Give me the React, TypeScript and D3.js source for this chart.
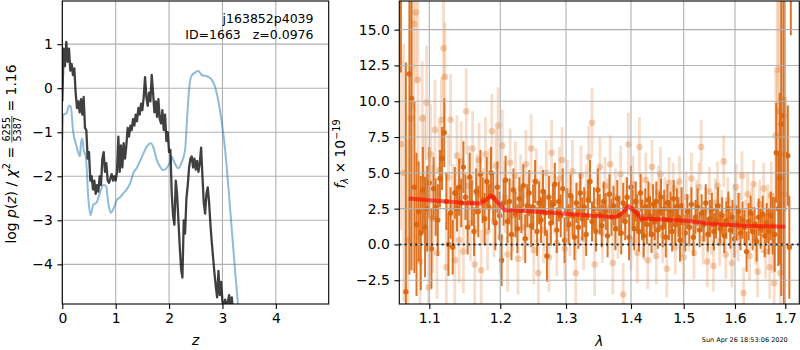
import { useEffect, useRef } from "react";
import * as d3 from "d3";

const FONT = "DejaVu Sans, sans-serif";

// left panel: redshift grid and the two curves
const pzZ = [
  0, 0.025, 0.05, 0.075, 0.1, 0.125, 0.15, 0.175, 0.2, 0.225, 0.25, 0.275, 0.3, 0.325, 0.35, 0.375,
  0.4, 0.425, 0.45, 0.475, 0.5, 0.525, 0.55, 0.575, 0.6, 0.625, 0.65, 0.675, 0.7, 0.725, 0.75, 0.775,
  0.8, 0.825, 0.85, 0.875, 0.9, 0.925, 0.95, 0.975, 1.0, 1.025, 1.05, 1.075, 1.1, 1.125, 1.15, 1.175,
  1.2, 1.225, 1.25, 1.275, 1.3, 1.325, 1.35, 1.375, 1.4, 1.425, 1.45, 1.475, 1.5, 1.525, 1.55, 1.575,
  1.6, 1.625, 1.65, 1.675, 1.7, 1.725, 1.75, 1.775, 1.8, 1.825, 1.85, 1.875, 1.9, 1.925, 1.95, 1.975,
  2.0, 2.025, 2.05, 2.075, 2.1, 2.125, 2.15, 2.175, 2.2, 2.225, 2.25, 2.275, 2.3, 2.325, 2.35, 2.375,
  2.4, 2.425, 2.45, 2.475, 2.5, 2.525, 2.55, 2.575, 2.6, 2.625, 2.65, 2.675, 2.7, 2.725, 2.75, 2.775,
  2.8, 2.825, 2.85, 2.875, 2.9, 2.925, 2.95, 2.975, 3.0, 3.025, 3.05, 3.075, 3.1, 3.125, 3.15, 3.175, 3.2,
];
const pzLog = [
  -0.3, 0.9, 0.5, 1.05, 0.6, 0.9, 0.4, 0.55, 0.3, 0.45, -0.1, -0.45, -0.3, -0.55, -0.25, -0.6,
  -0.2, -0.9, -0.95, -1.6, -1.45, -2.1, -2.0, -2.3, -2.1, -2.4, -2.2, -2.35, -2.0, -2.2, -1.6, -1.45,
  -1.9, -1.7, -2.1, -2.15, -2.05, -1.95, -2.1, -2.0, -2.1, -1.9, -1.1, -1.9, -1.3, -1.8, -1.25, -1.6,
  -1.3, -0.9, -1.1, -0.85, -0.95, -0.7, -0.85, -0.6, -0.75, -0.45, -0.6, -0.35, -0.5, -0.2, 0.25, -0.2,
  -0.4, -0.1, -0.3, 0.3, -0.1, -0.55, -0.3, -0.65, -0.25, -0.7, -0.8, -0.5, -0.95, -0.6, -1.2, -1.0,
  -1.45, -1.4, -2.4, -2.9, -3.1, -2.1, -2.4, -3.0, -3.6, -4.1, -4.3, -3.0, -3.3, -2.5, -2.2, -1.8,
  -1.6, -1.55, -1.8, -1.6, -1.85, -1.65, -1.9, -1.7, -1.35, -2.0, -2.6, -2.85, -2.4, -2.25, -2.6, -3.1,
  -3.5, -3.85, -4.2, -4.5, -4.75, -4.15, -4.7, -4.4, -4.85, -4.95, -4.8, -4.95, -4.85, -4.7, -5.0, -4.75, -5.1,
];
const chiZ = [
  0, 0.02, 0.08, 0.125, 0.16, 0.2, 0.27, 0.33, 0.35, 0.375, 0.4, 0.44, 0.49, 0.53, 0.58, 0.64, 0.7,
  0.77, 0.82, 0.86, 0.906, 0.96, 1.02, 1.08, 1.14, 1.2, 1.27, 1.33, 1.39, 1.45, 1.52, 1.58, 1.66, 1.71,
  1.77, 1.83, 1.89, 1.95, 2.02, 2.05, 2.08, 2.14, 2.17, 2.23, 2.3, 2.34, 2.38, 2.42, 2.49, 2.55, 2.61,
  2.71, 2.8, 2.86, 2.92, 2.99, 3.05, 3.11, 3.17, 3.24, 3.29, 3.32,
];
const chiLog = [
  -1.17, -0.6, -0.57, -0.4, -0.42, -0.95, -1.33, -1.55, -1.25, -1.14, -1.4, -1.55, -2.54, -2.88, -2.65,
  -2.6, -2.39, -2.2, -2.22, -2.6, -2.83, -2.73, -2.54, -2.48, -2.39, -2.31, -2.16, -1.93, -1.82, -1.67,
  -1.48, -1.33, -1.25, -1.36, -1.63, -1.78, -1.86, -1.82, -1.67, -1.55, -1.63, -1.78, -1.82, -1.7, -1.4,
  -0.64, 0.04, 0.28, 0.36, 0.39, 0.3, 0.27, 0.19, 0.04, -0.27, -0.8, -1.4, -2.23, -3.14, -4.2, -4.9, -5.3,
];
const zTicks = [0, 1, 2, 3, 4];
const pzTicks = [-4, -3, -2, -1, 0, 1];

// right panel: spectrum
const lamTicks = [1.1, 1.2, 1.3, 1.4, 1.5, 1.6, 1.7];
const fluxTicks = [-2.5, 0, 2.5, 5, 7.5, 10, 12.5, 15];
const modelLam = [
  1.071, 1.1, 1.13, 1.15, 1.171, 1.18, 1.187, 1.195, 1.207, 1.25, 1.295, 1.34, 1.378, 1.387, 1.396,
  1.405, 1.42, 1.493, 1.53, 1.56, 1.623, 1.7,
];
const modelFlux = [
  3.2, 3.08, 2.98, 2.9, 2.85, 3.1, 3.43, 3.0, 2.39, 2.3, 2.16, 2.0, 1.92, 2.2, 2.67, 2.4, 1.81, 1.69,
  1.55, 1.41, 1.3, 1.23,
];
// [lambda, flux, error]
const darkPts = [
  [1.06, 20, 8], [1.067, -3.3, 16], [1.072, 11.9, 14], [1.075, 10.2, 12], [1.079, 4.0, 6],
  [1.082, 1.4, 5], [1.085, 2.3, 3.5], [1.088, 0.8, 4], [1.091, 3.8, 3.0], [1.094, 1.2, 3.5],
  [1.097, 2.5, 3], [1.1, 4.3, 2.5], [1.103, -0.3, 2.8], [1.106, 3.9, 2.2], [1.109, 2.6, 2.0],
  [1.112, 1.7, 2.5], [1.115, 4.6, 2.0], [1.118, 6.0, 2.2], [1.121, 7.8, 2.4], [1.124, 3.0, 2.0],
  [1.127, 0.0, 2.2], [1.13, 2.2, 1.8], [1.133, -0.2, 1.9], [1.136, 3.6, 1.8], [1.139, 2.5, 1.6],
  [1.142, 4.0, 2.0], [1.145, 2.9, 1.7], [1.148, 5.4, 1.8], [1.151, 3.3, 1.6], [1.154, 1.2, 1.9],
  [1.157, 4.7, 1.7], [1.16, 2.9, 1.6], [1.163, 0.9, 1.7], [1.166, 3.7, 1.6], [1.169, 2.3, 1.8],
  [1.172, 4.9, 1.7], [1.175, 3.1, 1.6], [1.178, 1.8, 1.8], [1.181, 4.4, 1.7], [1.184, 2.6, 1.6],
  [1.187, 5.0, 1.8], [1.19, 3.3, 1.7], [1.193, 1.5, 1.9], [1.196, 4.0, 1.8], [1.199, 2.0, 1.7],
  [1.202, -1.1, 1.8], [1.205, 2.9, 1.6], [1.208, 4.5, 1.7], [1.211, 1.6, 1.5], [1.214, 3.0, 1.6],
  [1.217, 0.7, 1.8], [1.22, 3.8, 1.5], [1.223, 2.1, 1.6], [1.226, 1.1, 1.7], [1.229, 3.2, 1.5],
  [1.232, 2.4, 1.6], [1.235, 4.1, 1.5], [1.238, 0.4, 1.7], [1.241, 2.7, 1.5], [1.244, 3.6, 1.6],
  [1.247, 1.3, 1.5], [1.25, 2.6, 1.6], [1.253, 4.4, 1.5], [1.256, 0.9, 1.7], [1.259, 2.9, 1.5],
  [1.262, 1.7, 1.6], [1.265, 3.7, 1.5], [1.268, 2.2, 1.6], [1.271, -0.8, 1.8], [1.274, 3.3, 1.5],
  [1.277, 1.5, 1.6], [1.28, 2.8, 1.4], [1.283, 4.2, 1.5], [1.286, 1.0, 1.6], [1.289, 3.0, 1.4],
  [1.292, 2.0, 1.5], [1.295, 3.9, 1.4], [1.298, 0.3, 1.6], [1.301, 2.4, 1.5], [1.304, 1.4, 1.4],
  [1.307, 3.4, 1.5], [1.31, 2.0, 1.4], [1.313, 0.5, 1.6], [1.316, 2.9, 1.4], [1.319, 1.2, 1.5],
  [1.322, 3.6, 1.4], [1.325, 1.8, 1.5], [1.328, 2.6, 1.4], [1.331, 0.7, 1.5], [1.334, 3.1, 1.4],
  [1.337, 4.4, 1.5], [1.34, 1.6, 1.4], [1.343, 2.5, 1.5], [1.346, 0.9, 1.4], [1.349, 3.8, 1.5],
  [1.352, 2.1, 1.4], [1.355, 1.3, 1.5], [1.358, 3.0, 1.4], [1.361, 2.3, 1.3], [1.364, 0.6, 1.5],
  [1.367, 3.5, 1.4], [1.37, 1.9, 1.3], [1.373, 2.7, 1.4], [1.376, 1.1, 1.5], [1.379, 3.2, 1.3],
  [1.382, 2.0, 1.4], [1.385, 0.8, 1.5], [1.388, 2.9, 1.4], [1.391, 1.6, 1.3], [1.394, 3.3, 1.4],
  [1.397, 0.5, 1.6], [1.4, 4.0, 1.5], [1.403, 2.4, 1.4], [1.406, 1.1, 1.5], [1.409, 3.0, 1.4],
  [1.412, 2.2, 1.3], [1.415, 0.9, 1.4], [1.418, 3.6, 1.3], [1.421, 1.7, 1.4], [1.424, 0.6, 1.5],
  [1.427, 2.6, 1.3], [1.43, 1.4, 1.4], [1.433, 3.1, 1.3], [1.436, 2.0, 1.4], [1.439, 0.7, 1.3],
  [1.442, 2.8, 1.4], [1.445, 1.6, 1.3], [1.448, 3.0, 1.4], [1.451, 1.0, 1.3], [1.454, 2.3, 1.4],
  [1.457, 3.3, 1.3], [1.46, 1.2, 1.4], [1.463, 2.5, 1.3], [1.466, 0.5, 1.4], [1.469, 2.9, 1.3],
  [1.472, 1.7, 1.4], [1.475, 2.4, 1.3], [1.478, 0.9, 1.4], [1.481, 3.2, 1.3], [1.484, 1.4, 1.4],
  [1.487, 2.6, 1.3], [1.49, 1.9, 1.4], [1.493, 0.3, 1.5], [1.496, 2.7, 1.3], [1.499, 1.5, 1.4],
  [1.503, 0.8, 1.3], [1.507, 2.3, 1.2], [1.511, 1.2, 1.3], [1.515, 2.8, 1.2], [1.519, 0.5, 1.3],
  [1.523, 1.9, 1.2], [1.527, 2.6, 1.3], [1.531, 1.0, 1.2], [1.535, 2.2, 1.3], [1.539, 1.4, 1.2],
  [1.543, 2.9, 1.3], [1.547, 0.7, 1.2], [1.551, 1.8, 1.3], [1.555, 2.4, 1.2], [1.559, 0.9, 1.3],
  [1.563, 1.6, 1.2], [1.567, 2.7, 1.3], [1.571, 1.1, 1.2], [1.575, 2.0, 1.3], [1.579, 0.6, 1.2],
  [1.583, 1.7, 1.3], [1.587, 2.5, 1.2], [1.591, 1.0, 1.3], [1.595, 1.9, 1.2], [1.599, 0.4, 1.3],
  [1.603, 1.5, 1.2], [1.607, 2.3, 1.3], [1.611, 0.8, 1.2], [1.615, 1.7, 1.3], [1.619, 1.2, 1.2],
  [1.623, -0.5, 1.4], [1.627, 1.6, 1.3], [1.631, 2.2, 1.2], [1.635, 0.9, 1.3], [1.639, 1.4, 1.2],
  [1.643, 0.2, 1.4], [1.647, 1.9, 1.3], [1.651, 1.1, 1.4], [1.655, 2.1, 1.3], [1.659, 0.6, 1.5],
  [1.663, 1.5, 1.4], [1.667, 0.9, 1.6], [1.671, 2.0, 1.7], [1.675, 1.3, 2.0], [1.679, 0.7, 2.6],
  [1.682, 6.4, 3.5], [1.686, 2.5, 4.0], [1.689, 4.6, 6], [1.692, 8.4, 12], [1.697, 9.0, 14],
  [1.7, 6.3, 4], [1.705, 6.2, 3.5], [1.708, -0.2, 3.6], [1.711, 20, 5.4],
];
const lightPts = [
  [1.06, 7.0, 6.0], [1.064, 5.0, 9], [1.07, 0.3, 7], [1.074, 8.8, 9], [1.078, 15.4, 6],
  [1.081, 16.2, 5], [1.084, 11.5, 6], [1.087, -1.2, 5], [1.09, 8.8, 4], [1.093, 4.6, 4.5],
  [1.096, 9.9, 4], [1.099, -3.0, 4], [1.102, 6.3, 3.5], [1.105, 1.8, 3.8], [1.108, 8.0, 3.5],
  [1.111, -0.6, 3.2], [1.114, 5.2, 3.4], [1.117, 8.7, 3.0], [1.12, 13.7, 3.5], [1.122, 11.7, 3.8],
  [1.124, -1.6, 3.2], [1.127, 4.7, 3.0], [1.13, 8.7, 3.2], [1.133, 2.6, 3.0], [1.136, -1.1, 3.2],
  [1.139, 6.2, 2.8], [1.142, 0.3, 3.0], [1.145, 5.8, 2.8], [1.148, -0.5, 2.9], [1.152, 9.3, 3.0],
  [1.155, 4.1, 2.8], [1.158, 1.5, 2.7], [1.161, 6.7, 2.6], [1.164, -1.4, 2.8], [1.167, 3.6, 2.7],
  [1.17, 5.9, 2.6], [1.173, -1.8, 2.8], [1.176, 2.7, 2.6], [1.179, 6.3, 2.6], [1.182, 0.9, 2.7],
  [1.185, 4.2, 2.5], [1.188, 7.9, 2.6], [1.191, 1.6, 2.5], [1.194, 5.5, 2.6], [1.197, 8.3, 2.7],
  [1.2, 0.5, 2.6], [1.203, 6.9, 2.5], [1.207, 3.3, 2.5], [1.211, -0.7, 2.6], [1.215, 5.7, 2.4],
  [1.219, 2.0, 2.5], [1.223, 4.8, 2.4], [1.227, -1.0, 2.5], [1.231, 3.9, 2.4], [1.235, 1.2, 2.3],
  [1.239, 5.6, 2.4], [1.243, 2.6, 2.3], [1.247, 6.7, 2.4], [1.251, -0.4, 2.4], [1.255, 4.4, 2.3],
  [1.258, -2.0, 2.4], [1.262, 3.2, 2.3], [1.266, 1.0, 2.3], [1.27, 5.0, 2.3], [1.274, -0.9, 2.4],
  [1.278, 6.4, 2.3], [1.282, 2.9, 2.2], [1.286, 0.1, 2.3], [1.29, 4.6, 2.2], [1.294, 5.9, 2.3],
  [1.298, -0.3, 2.2], [1.302, 3.7, 2.2], [1.306, 1.4, 2.2], [1.31, 5.1, 2.2], [1.315, -2.0, 2.3],
  [1.319, 2.2, 2.2], [1.323, 4.8, 2.1], [1.327, 0.4, 2.2], [1.331, 3.5, 2.1], [1.335, 6.1, 2.2],
  [1.34, 8.5, 2.4], [1.344, -1.4, 2.2], [1.348, 3.0, 2.1], [1.352, 5.4, 2.1], [1.356, 0.8, 2.1],
  [1.36, 4.1, 2.0], [1.364, 2.5, 2.1], [1.368, 5.6, 2.0], [1.372, -1.3, 2.2], [1.376, 3.3, 2.0],
  [1.38, 1.1, 2.1], [1.384, 4.9, 2.0], [1.388, -3.5, 2.2], [1.392, 2.7, 2.0], [1.396, 7.0, 2.2],
  [1.4, 0.3, 2.1], [1.404, 4.2, 2.0], [1.408, 2.0, 2.0], [1.412, -0.6, 2.1], [1.416, 6.8, 2.1],
  [1.42, 3.0, 2.0], [1.424, 0.9, 2.0], [1.428, 4.5, 1.9], [1.432, -1.1, 2.0], [1.436, 2.4, 1.9],
  [1.44, 5.4, 1.9], [1.444, 1.3, 1.9], [1.448, -0.8, 2.0], [1.452, 3.6, 1.9], [1.456, 4.9, 1.9],
  [1.46, 0.6, 1.9], [1.464, 2.9, 1.8], [1.468, -1.7, 2.0], [1.472, 4.3, 1.8], [1.476, 1.8, 1.8],
  [1.48, 3.9, 1.8], [1.484, -0.2, 1.9], [1.488, 2.6, 1.8], [1.492, 4.4, 1.8], [1.496, 0.9, 1.8],
  [1.5, -0.9, 1.9], [1.505, 3.3, 1.8], [1.51, 1.2, 1.7], [1.515, 4.6, 1.8], [1.52, -0.6, 1.8],
  [1.525, 2.8, 1.7], [1.53, 4.0, 1.7], [1.534, 6.8, 1.9], [1.538, 0.4, 1.8], [1.542, 2.3, 1.7],
  [1.546, -1.2, 1.8], [1.55, 3.7, 1.7], [1.554, 1.0, 1.7], [1.558, -1.5, 1.8], [1.562, 2.9, 1.7],
  [1.566, 4.1, 1.7], [1.57, 0.2, 1.7], [1.574, 2.2, 1.6], [1.578, 5.8, 1.8], [1.582, -0.7, 1.7],
  [1.586, 3.1, 1.6], [1.59, 1.4, 1.6], [1.594, -1.3, 1.7], [1.598, 2.6, 1.6], [1.602, 4.0, 1.6],
  [1.606, 0.5, 1.7], [1.61, 2.0, 1.6], [1.614, 4.8, 1.7], [1.617, -3.4, 1.8], [1.621, 1.5, 1.6],
  [1.625, 3.5, 1.6], [1.629, -0.8, 1.7], [1.633, 2.4, 1.6], [1.637, 4.2, 1.7], [1.641, 0.3, 1.7],
  [1.645, -1.9, 1.8], [1.649, 2.8, 1.7], [1.653, 1.2, 1.8], [1.657, 3.9, 1.8], [1.661, -0.5, 1.9],
  [1.665, 2.2, 2.0], [1.669, -1.6, 2.2], [1.672, 3.4, 2.4], [1.675, 0.8, 2.8], [1.678, -2.7, 3.2],
  [1.681, 7.6, 4.5], [1.684, 12.2, 6], [1.687, 9.3, 8], [1.69, -2.0, 5], [1.692, 10.1, 10],
  [1.695, 8.8, 9], [1.698, 3.5, 6],
];

const ORANGE = "#d9660f";

function axes(svg, x, y, box, xt, yt, xfmt, yfmt) {
  const gx = svg
    .append("g")
    .attr("transform", `translate(0,${box.y1})`)
    .call(d3.axisBottom(x).tickValues(xt).tickFormat(xfmt).tickSize(4.9).tickSizeOuter(0).tickPadding(4.6));
  const gy = svg
    .append("g")
    .attr("transform", `translate(${box.x0},0)`)
    .call(d3.axisLeft(y).tickValues(yt).tickFormat(yfmt).tickSize(4.9).tickSizeOuter(0).tickPadding(4.6));
  [gx, gy].forEach((g) => {
    g.select(".domain").remove();
    g.attr("font-family", FONT).attr("font-size", 13.9);
    g.selectAll("line").attr("stroke", "#000").attr("stroke-width", 1.1);
    g.selectAll("text").attr("fill", "#000");
  });
  svg
    .append("rect")
    .attr("x", box.x0)
    .attr("y", box.y0)
    .attr("width", box.x1 - box.x0)
    .attr("height", box.y1 - box.y0)
    .attr("fill", "none")
    .attr("stroke", "#000")
    .attr("stroke-width", 1.1);
}

function grid(g, x, y, box, xt, yt) {
  const gg = g.append("g").attr("stroke", "#b0b0b0").attr("stroke-width", 1.1);
  xt.forEach((t) => gg.append("line").attr("x1", x(t)).attr("x2", x(t)).attr("y1", box.y0).attr("y2", box.y1));
  yt.forEach((t) => gg.append("line").attr("y1", y(t)).attr("y2", y(t)).attr("x1", box.x0).attr("x2", box.x1));
}

export default function App() {
  const ref = useRef(null);

  useEffect(() => {
    const svg = d3.select(ref.current);
    svg.selectAll("*").remove();

    // ---------- left panel ----------
    const L = { x0: 62.3, x1: 328.7, y0: 1, y1: 304 };
    const xL = d3.scaleLinear().domain([0, 4.99]).range([L.x0, L.x1]);
    const yL = d3.scaleLinear().domain([-4.9, 1.98]).range([L.y1, L.y0]);

    svg.append("clipPath").attr("id", "clipL").append("rect")
      .attr("x", L.x0).attr("y", L.y0).attr("width", L.x1 - L.x0).attr("height", L.y1 - L.y0);

    grid(svg, xL, yL, L, zTicks, pzTicks);

    const gL = svg.append("g").attr("clip-path", "url(#clipL)");
    const lineChi = d3.line().x((d) => xL(d[0])).y((d) => yL(d[1])).curve(d3.curveMonotoneX);
    gL.append("path")
      .attr("d", lineChi(chiZ.map((z, i) => [z, chiLog[i]])))
      .attr("fill", "none")
      .attr("stroke", "#1f77b4")
      .attr("stroke-opacity", 0.5)
      .attr("stroke-width", 2);
    const linePz = d3.line().x((d) => xL(d[0])).y((d) => yL(d[1]));
    gL.append("path")
      .attr("d", linePz(pzZ.map((z, i) => [z, pzLog[i]])))
      .attr("fill", "none")
      .attr("stroke", "#000")
      .attr("stroke-opacity", 0.75)
      .attr("stroke-width", 2.3)
      .attr("stroke-linejoin", "round");

    axes(svg, xL, yL, L, zTicks, pzTicks, d3.format("d"), d3.format("d"));

    const title = svg.append("g").attr("font-family", FONT).attr("font-size", 12.5).attr("text-anchor", "end");
    title.append("text").attr("x", 313.5).attr("y", 23).text("j163852p4039");
    title.append("text").attr("x", 313.5).attr("y", 39).style("white-space", "pre").text("ID=1663   z=0.0976");

    svg.append("text")
      .attr("x", xL(2.5)).attr("y", 345)
      .attr("text-anchor", "middle").attr("font-family", FONT).attr("font-size", 13.9)
      .attr("font-style", "italic").text("z");

    // y label with fraction
    const yl = svg.append("g").attr("transform", "translate(15.5,154) rotate(-90)")
      .attr("font-family", FONT).attr("font-size", 13.9);
    const a = yl.append("text").style("white-space", "pre");
    a.append("tspan").text("log ");
    a.append("tspan").attr("font-style", "italic").text("p");
    a.append("tspan").text("(");
    a.append("tspan").attr("font-style", "italic").text("z");
    a.append("tspan").text(") / ");
    a.append("tspan").attr("font-style", "italic").text("χ");
    a.append("tspan").attr("font-size", 9.7).attr("dy", -5.5).text("2");
    a.append("tspan").attr("dy", 5.5).text(" = ");
    const num = yl.append("text").attr("font-size", 9.7).attr("text-anchor", "middle").attr("y", -5.3).text("6255");
    const den = yl.append("text").attr("font-size", 9.7).attr("text-anchor", "middle").attr("y", 5.2).text("5387");
    const c = yl.append("text").style("white-space", "pre").text(" = 1.16");
    const wa = a.node().getComputedTextLength();
    const wf = Math.max(num.node().getComputedTextLength(), den.node().getComputedTextLength()) + 2;
    const wc = c.node().getComputedTextLength();
    const s = -(wa + wf + wc) / 2;
    a.attr("x", s);
    num.attr("x", s + wa + wf / 2);
    den.attr("x", s + wa + wf / 2);
    yl.append("line").attr("x1", s + wa).attr("x2", s + wa + wf).attr("y1", -3.7).attr("y2", -3.7)
      .attr("stroke", "#000").attr("stroke-width", 0.7);
    c.attr("x", s + wa + wf);

    // ---------- right panel ----------
    const R = { x0: 399.3, x1: 799.3, y0: 1, y1: 304 };
    const lamPx = [429.3, 500.3, 566, 631, 683.7, 735, 785.3];
    const xR = d3.scaleLinear().domain(lamTicks).range(lamPx);
    const yR = d3.scaleLinear().domain([-4.16, 17]).range([R.y1, R.y0]);

    svg.append("clipPath").attr("id", "clipR").append("rect")
      .attr("x", R.x0).attr("y", R.y0).attr("width", R.x1 - R.x0).attr("height", R.y1 - R.y0);
    const gR = svg.append("g").attr("clip-path", "url(#clipR)");

    const light = gR.append("g").attr("fill", ORANGE).attr("stroke", ORANGE);
    light.selectAll("line").data(lightPts).join("line")
      .attr("x1", (d) => xR(d[0])).attr("x2", (d) => xR(d[0]))
      .attr("y1", (d) => yR(d[1] - d[2])).attr("y2", (d) => yR(d[1] + d[2]))
      .attr("stroke-width", 2.8).attr("stroke-opacity", 0.22);
    light.selectAll("circle").data(lightPts).join("circle")
      .attr("cx", (d) => xR(d[0])).attr("cy", (d) => yR(d[1])).attr("r", 3.3)
      .attr("stroke", "none").attr("fill-opacity", 0.3);

    const dark = gR.append("g").attr("fill", ORANGE).attr("stroke", ORANGE);
    dark.selectAll("line").data(darkPts).join("line")
      .attr("x1", (d) => xR(d[0])).attr("x2", (d) => xR(d[0]))
      .attr("y1", (d) => yR(d[1] - d[2])).attr("y2", (d) => yR(d[1] + d[2]))
      .attr("stroke-width", 2.0).attr("stroke-opacity", 0.9);
    dark.selectAll("circle").data(darkPts).join("circle")
      .attr("cx", (d) => xR(d[0])).attr("cy", (d) => yR(d[1])).attr("r", 2.7)
      .attr("stroke", "none").attr("fill-opacity", 0.95);

    grid(svg, xR, yR, R, lamTicks, fluxTicks);

    const gR2 = svg.append("g").attr("clip-path", "url(#clipR)");
    const lineM = d3.line().x((d) => xR(d[0])).y((d) => yR(d[1]));
    gR2.append("path")
      .attr("d", lineM(modelLam.map((l, i) => [l, modelFlux[i]])))
      .attr("fill", "none").attr("stroke", "#ff0000").attr("stroke-opacity", 0.6)
      .attr("stroke-width", 4).attr("stroke-linejoin", "round");
    gR2.append("line")
      .attr("x1", R.x0).attr("x2", R.x1).attr("y1", yR(0)).attr("y2", yR(0))
      .attr("stroke", "#000").attr("stroke-opacity", 0.8).attr("stroke-width", 2)
      .attr("stroke-dasharray", "2,3.3");

    axes(svg, xR, yR, R, lamTicks, fluxTicks, d3.format(".1f"), d3.format(".1f"));

    svg.append("text")
      .attr("x", 599.3).attr("y", 346)
      .attr("text-anchor", "middle").attr("font-family", FONT).attr("font-size", 13.9)
      .attr("font-style", "italic").text("λ");

    const yr = svg.append("text").attr("transform", "translate(345,154) rotate(-90)")
      .attr("text-anchor", "middle").attr("font-family", FONT).attr("font-size", 13.9);
    yr.append("tspan").attr("font-style", "italic").text("f");
    yr.append("tspan").attr("font-style", "italic").attr("font-size", 9.7).attr("dy", 3).text("λ");
    yr.append("tspan").attr("dy", -3).style("white-space", "pre").text(" × 10");
    yr.append("tspan").attr("font-size", 9.7).attr("dy", -5.5).text("−19");

    svg.append("text")
      .attr("x", 787.7).attr("y", 342)
      .attr("text-anchor", "end").attr("font-family", FONT).attr("font-size", 6.5)
      .text("Sun Apr 26 18:53:06 2020");
  }, []);

  return (
    <svg
      ref={ref}
      width={800}
      height={350}
      style={{ position: "absolute", left: 0, top: 0, background: "#fff" }}
    />
  );
}
